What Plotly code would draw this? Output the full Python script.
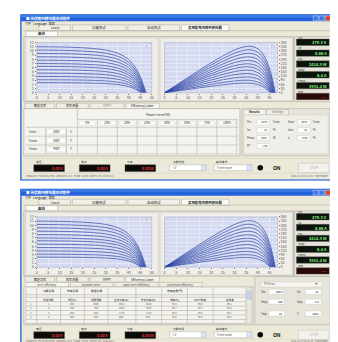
import plotly.graph_objects as go

W, H = 338, 342

# ---------------- data ----------------
# normalised I-V curve shape (V/Voc -> I/Isc)
v_norm = [0, 0.1, 0.2, 0.3, 0.4, 0.5, 0.6, 0.65, 0.7, 0.75, 0.8, 0.85, 0.9, 0.95, 1.0]
i_norm = [1.0, 0.998, 0.995, 0.99, 0.98, 0.965, 0.94, 0.92, 0.89, 0.85, 0.79, 0.70, 0.56, 0.34, 0.0]
# short-circuit current / open-circuit voltage of each irradiance level
isc_levels = [11.0, 10.2, 9.4, 8.6, 7.8, 7.0, 6.3, 5.5, 4.7, 3.9, 3.1, 2.4]
voc_levels = [47.5, 47.3, 47.1, 46.9, 46.7, 46.5, 46.3, 46.1, 45.9, 45.7, 45.5, 45.3]

power_levels = ["5%", "10%", "20%", "25%", "30%", "50%", "75%", "100%"]
voltage_rows = ["Vmin", "Vnom", "Vmax"]
voltage_vals = ["200V", "350V", "450V"]

display_labels = ["Vpv", "Ipv", "Ppv", "Impp", "Pmpp", "状态"]
display_vals_1 = ["279.3 V", "8.66 A", "2414.5 W", "6.4 A", "3551.4 W", "---"]
display_vals_2 = ["279.3 V", "8.66 A", "2414.5 W", "6.4 A", "3551.4 W", "---"]
led_labels = ["电压", "电流", "功率"]
led_vals = ["0.00 V", "0.00 A", "0.00 W"]
main_tabs = ["Local", "功能测试", "自动测试", "太阳能电池阵列模拟器"]
bottom_tabs = ["额定功率", "效率测量", "MPPT", "Efficiency Label"]
sub_tabs_2 = ["MPPT Efficiency", "Dynamic MPPT", "Static MPPT Efficiency", "Conversion Efficiency"]
table2_groups = ["功能设置", "效率设置", "数据记录", "", "", "效率结果(%)", "", ""]
table2_cols = ["测试次数", "电压(V)", "光照强度", "直流功率(W)", "交流功率(W)", "效率(%)", "MPPT效率", "总效率"]
table2_rows = [["1", "200", "1000", "3551", "3420", "96.3", "99.8", "96.1"],
               ["2", "350", "750", "2663", "2575", "96.7", "99.7", "96.4"],
               ["3", "450", "500", "1775", "1712", "96.5", "99.6", "96.1"],
               ["4", "200", "250", "888", "851", "95.8", "99.5", "95.3"]]

# ---------------- helpers ----------------
shapes, annotations = [], []
FONT = "Noto Sans CJK SC, DejaVu Sans"


def X(px):
    return px / W


def Y(py):
    return 1 - py / H


def rect(x0, y0, x1, y1, fill, line=None, lw=0.6):
    shapes.append(dict(type="rect", xref="paper", yref="paper", layer="below",
                       x0=X(x0), x1=X(x1), y0=Y(y1), y1=Y(y0), fillcolor=fill,
                       line=dict(color=line if line else fill, width=lw if line else 0)))


def hline(x0, x1, y, color="#a9a79d", lw=0.5):
    shapes.append(dict(type="line", xref="paper", yref="paper", layer="below",
                       x0=X(x0), x1=X(x1), y0=Y(y), y1=Y(y), line=dict(color=color, width=lw)))


def vline(x, y0, y1, color="#a9a79d", lw=0.5):
    shapes.append(dict(type="line", xref="paper", yref="paper", layer="below",
                       x0=X(x), x1=X(x), y0=Y(y0), y1=Y(y1), line=dict(color=color, width=lw)))


def circle(cx, cy, r, fill):
    shapes.append(dict(type="circle", xref="paper", yref="paper", layer="below",
                       x0=X(cx - r), x1=X(cx + r), y0=Y(cy + r), y1=Y(cy - r),
                       fillcolor=fill, line=dict(width=0)))


def txt(x, y, s, size=3.6, color="#333333", anchor="left", bold=False):
    annotations.append(dict(xref="paper", yref="paper", x=X(x), y=Y(y),
                            text=("<b>%s</b>" % s) if bold else s, showarrow=False,
                            font=dict(size=size, color=color, family=FONT),
                            xanchor=anchor, yanchor="middle", borderpad=0))


BEIGE = "#ece9d8"
PANEL = "#e7e4da"
BORDER = "#a7a49a"
PLOTBG = "#d5daf1"


def window(top, bottom, dy, second):
    # frame and title bar
    rect(12, top, 327, bottom, BEIGE, "#0b4fd1", 1.2)
    rect(12, top, 327, top + 6.5, "#2461dc")
    rect(12, top, 327, top + 2.5, "#3f7ee9")
    txt(16, top + 3.3, "■ 光伏阵列模拟器测试软件", 3.6, "#ffffff", bold=True)
    rect(307, top + 1, 312, top + 5.8, "#3a76e6", "#ffffff", 0.4)
    rect(313, top + 1, 318, top + 5.8, "#3a76e6", "#ffffff", 0.4)
    rect(319, top + 1, 325, top + 5.8, "#d9462b", "#ffffff", 0.4)
    # menu
    txt(15, top + 8.5, "文件   Language   帮助", 3.0, "#222222")
    # main tabs
    tabs_x = [(30, 62), (64, 118), (120, 172), (174, 222)]
    for k, (a, b) in enumerate(tabs_x):
        active = k == 3
        rect(a, dy + 14, b, dy + 20, "#fbfbf8" if active else "#f1efe6", BORDER, 0.5)
        txt((a + b) / 2, dy + 17, main_tabs[k], 3.4, "#222222", "center", bold=active)
    hline(14, 325, dy + 20, BORDER)
    # sub tab
    rect(17, dy + 20.5, 49, dy + 26, "#fbfbf8", BORDER, 0.5)
    txt(33, dy + 23.3, "曲线", 3.4, "#222222", "center", bold=True)
    # chart panel
    rect(15, dy + 26, 287, dy + 92, PANEL, BORDER, 0.6)
    rect(17, dy + 27.5, 150.5, dy + 91, "#efeee8", "#c8c6bc", 0.5)
    rect(152.5, dy + 27.5, 286, dy + 91, "#efeee8", "#c8c6bc", 0.5)
    # plot backgrounds (also set through plot_bgcolor)
    rect(28, dy + 32, 144, dy + 83, PLOTBG, "#8c93b8", 0.4)
    rect(157, dy + 32, 271, dy + 83, PLOTBG, "#8c93b8", 0.4)
    rect(135, dy + 33.5, 143, dy + 37, "#e6e9f7", "#b9bedb", 0.3)
    txt(139, dy + 35.3, "I-V", 2.4, "#6a6f90", "center")
    rect(262, dy + 33.5, 270, dy + 37, "#e6e9f7", "#b9bedb", 0.3)
    txt(266, dy + 35.3, "P-V", 2.4, "#6a6f90", "center")
    # right-hand displays
    rect(288, dy + 26, 325, dy + 92, PANEL, BORDER, 0.5)
    vals = display_vals_2 if second else display_vals_1
    for k in range(6):
        yt = dy + 28.5 + k * 11
        txt(291, yt - 1.6, display_labels[k], 2.6, "#333333")
        red = k == 5
        rect(290, yt, 323, yt + 6.5, "#2a0808" if red else "#0c120c", "#5a5a5a", 0.4)
        txt(322, yt + 3.3, vals[k], 4.0, "#ff4a3a" if red else "#7cf27c", "right", bold=True)

    if not second:
        # bottom tabs
        btx = [(16, 46), (48, 80), (82, 116), (118, 152)]
        for k, (a, b) in enumerate(btx):
            rect(a, dy + 93.5, b, dy + 99, "#f6f5f0" if k == 3 else "#efede4", BORDER, 0.5)
            txt((a + b) / 2, dy + 96.3, bottom_tabs[k], 3.1, "#888888" if k == 2 else "#222222", "center")
        # table
        rect(15, dy + 99, 233, dy + 147, "#f4f3ee", BORDER, 0.6)
        x0g, cw = 69, 20.1
        hline(x0g, 231, dy + 110, BORDER)
        txt((x0g + 231) / 2, dy + 105, "Power Level(W)", 3.4, "#333333", "center")
        for k in range(9):
            vline(x0g + k * cw, dy + (99 if k == 0 else 110), dy + 145, BORDER)
        for k, lab in enumerate(power_levels):
            rect(x0g + k * cw + 2, dy + 111.5, x0g + (k + 1) * cw - 2, dy + 116, "#fbfbf9", "#c4c2b8", 0.3)
            txt(x0g + (k + 0.5) * cw, dy + 113.8, lab, 3.0, "#333333", "center")
        for r in range(3):
            yr = dy + 118 + r * 9
            hline(17, 231, yr, BORDER)
            txt(19, yr + 4.5, voltage_rows[r], 3.0)
            rect(38, yr + 2, 57, yr + 7, "#ffffff", "#b5b3aa", 0.3)
            txt(47.5, yr + 4.5, voltage_vals[r], 3.0, "#222222", "center")
            txt(61, yr + 4.5, "V", 3.0)
        hline(17, 231, dy + 145, BORDER)
        vline(37, dy + 118, dy + 145, BORDER)
        vline(58, dy + 118, dy + 145, BORDER)
        # right panel
        rect(235, dy + 99, 324, dy + 147, PANEL, BORDER, 0.5)
        rect(237, dy + 100, 259, dy + 105.5, "#f6f5f0", BORDER, 0.4)
        txt(248, dy + 102.8, "Results", 3.0, "#222222", "center", bold=True)
        rect(260, dy + 100, 282, dy + 105.5, "#efede4", BORDER, 0.4)
        txt(271, dy + 102.8, "Settings", 3.0, "#777777", "center")
        rect(237, dy + 105.5, 322, dy + 145, "#efeee8", "#c4c2b8", 0.4)
        fields = [(239, 113, "Vin", "1234", "Vrms"), (280, 113, "Vout", "1234", "Vrms"),
                  (239, 121, "Iin", "12", "%"), (280, 121, "Iout", "12", "%"),
                  (239, 129, "Pmax", "3551", "W"), (280, 129, "η", "0.00", "%"),
                  (239, 137, "PF", "1.00", "")]
        for fx, fy, lab, val, unit in fields:
            txt(fx, dy + fy, lab, 2.8)
            rect(fx + 11, dy + fy - 2.5, fx + 24, dy + fy + 2.5, "#ffffff", "#b5b3aa", 0.3)
            txt(fx + 23, dy + fy, val, 2.8, "#222222", "right")
            txt(fx + 26, dy + fy, unit, 2.8)
        by = dy + 153
        sy = by + 14
    else:
        # two rows of tabs
        btx = [(16, 46), (48, 80), (82, 116), (118, 152)]
        for k, (a, b) in enumerate(btx):
            rect(a, dy + 92.5, b, dy + 98, "#f6f5f0" if k == 3 else "#efede4", BORDER, 0.5)
            txt((a + b) / 2, dy + 95.3, bottom_tabs[k], 3.1, "#222222", "center")
        stx = [(17, 60), (62, 105), (107, 150), (152, 195)]
        for k, (a, b) in enumerate(stx):
            rect(a, dy + 98.5, b, dy + 103, "#f6f5f0" if k == 0 else "#efede4", BORDER, 0.4)
            txt((a + b) / 2, dy + 100.8, sub_tabs_2[k], 2.6, "#444444", "center")
        # table
        rect(15, dy + 103, 246, dy + 141, "#f4f3ee", BORDER, 0.6)
        colx = [17, 28, 52, 76, 100, 128, 154, 180, 206, 239]
        for cx in colx:
            vline(cx, dy + 104, dy + 140, BORDER)
        for yy in [111, 113.5, 118, 122.5, 127, 131.5, 136, 140]:
            hline(17, 239, dy + yy, BORDER)
        for k, lab in enumerate(table2_groups):
            if lab:
                txt((colx[k + 1] + colx[k + 2]) / 2, dy + 107, lab, 2.8, "#222222", "center")
        for k, lab in enumerate(table2_cols):
            txt((colx[k + 1] + colx[k + 2]) / 2, dy + 115.8, lab, 2.6, "#222222", "center")
        for r, row in enumerate(table2_rows):
            txt(22.5, dy + 120.3 + r * 4.5, str(r + 1), 2.4, "#555555", "center")
            for k, val in enumerate(row):
                txt((colx[k + 1] + colx[k + 2]) / 2, dy + 120.3 + r * 4.5, val, 2.4, "#555555", "center")
        rect(240, dy + 104, 245, dy + 140, "#e9e8e2", "#b5b3aa", 0.3)
        rect(240.5, dy + 107, 244.5, dy + 116, "#c5d3f0", "#8fa3cf", 0.3)
        # right panel
        rect(248, dy + 92.5, 324, dy + 141, PANEL, BORDER, 0.5)
        rect(254, dy + 98, 316, dy + 103, "#f7f6f2", "#b5b3aa", 0.3)
        txt(256, dy + 100.5, "PV Array", 2.8, "#555555")
        txt(313, dy + 100.5, "▼", 2.4, "#555555", "right")
        fields = [(253, 108, "Voc", "500.0"), (290, 108, "Isc", "10"),
                  (253, 118, "Vmp", "400"), (290, 118, "Imp", "8.9"),
                  (253, 130, "Tmp", "25"), (290, 130, "G", "1000")]
        for fx, fy, lab, val in fields:
            txt(fx, dy + fy, lab, 2.8)
            rect(fx + 9, dy + fy - 2.6, fx + 25, dy + fy + 2.6, "#ffffff", "#b5b3aa", 0.3)
            txt(fx + 24, dy + fy, val, 2.8, "#222222", "right")
        by = dy + 145.5
        sy = by + 12.8

    # bottom bar
    hline(14, 325, by - 3.5, "#cfccc0", 0.5)
    for k, lx in enumerate([25, 71, 117]):
        txt(lx + 1, by, led_labels[k], 2.8, "#333333")
        rect(lx, by + 3, lx + 31, by + 10, "#0a0a0a", "#555555", 0.4)
        txt(lx + 30, by + 6.5, led_vals[k], 3.6, "#e8382a", "right", bold=True)
    txt(164, by, "功能选择", 2.8)
    rect(162, by + 3, 199, by + 9, "#ffffff", "#9e9c94", 0.4)
    txt(164, by + 6, "I-V", 2.8)
    rect(194, by + 3.4, 198.6, by + 8.6, "#dde4f4", "#9eaed0", 0.3)
    txt(208, by, "输出模式", 2.8)
    rect(207, by + 3, 245, by + 9, "#ffffff", "#9e9c94", 0.4)
    txt(209, by + 6, "Fixed mode", 2.8, "#555555")
    rect(240, by + 3.4, 244.6, by + 8.6, "#dde4f4", "#9eaed0", 0.3)
    circle(253.5, by + 6, 2.8, "#050505")
    txt(270, by + 6, "ON", 5.0, "#111111", "center", bold=True)
    rect(292, by + 1.5, 323, by + 11, "#f2f1ec", "#c2c0b6", 0.5)
    txt(307.5, by + 6.2, "STOP", 3.2, "#b0aea6", "center")
    # status bar
    hline(14, 325, sy - 2.2, "#cfccc0", 0.4)
    txt(16, sy, "PRODUCT: PV SIMULATOR   VERSION: V1.0   MODE: AUTO   COMM: OK   STATUS: 0",
        2.4, "#666666")
    txt(323, sy, "2010-12-15 10:21:34   Fixed mode", 2.4, "#666666", "right")


window(4, 171.5, 0, False)
window(181, 344, 177, True)

# ---------------- figure and traces ----------------
fig = go.Figure()
AX = [
    # (x-domain px, y-domain px)
    ((28, 144), (32, 83)), ((157, 271), (32, 83)),
    ((28, 144), (209, 260)), ((157, 271), (209, 260)),
]
iv_range = [0, 50]
pv_range = [0, 48.5]
iv_yrange = [0, 12]
pv_yrange = [0, 360]

for n, ((xa, xb), (ya, yb)) in enumerate(AX, start=1):
    is_iv = n % 2 == 1
    xs = "" if n == 1 else str(n)
    fig.layout["xaxis" + xs] = dict(
        domain=[X(xa), X(xb)], anchor="y" + xs, range=iv_range if is_iv else pv_range,
        dtick=5, showgrid=True, gridcolor="rgba(255,255,255,0.35)", gridwidth=0.4,
        zeroline=False, showline=False, ticks="outside", ticklen=1.2, tickwidth=0.4,
        tickcolor="#777777", tickfont=dict(size=3.6, color="#555555", family=FONT),
        fixedrange=True)
    fig.layout["yaxis" + xs] = dict(
        domain=[Y(yb), Y(ya)], anchor="x" + xs, range=iv_yrange if is_iv else pv_yrange,
        dtick=1 if is_iv else 30, side="left" if is_iv else "right",
        showgrid=True, gridcolor="rgba(255,255,255,0.35)", gridwidth=0.4,
        zeroline=False, showline=False, ticks="outside", ticklen=1.2, tickwidth=0.4,
        tickcolor="#777777", tickfont=dict(size=3.6, color="#555555", family=FONT),
        fixedrange=True)

for w in range(2):
    for k in range(len(isc_levels)):
        v = [vn * voc_levels[k] for vn in v_norm]
        cur = [inn * isc_levels[k] for inn in i_norm]
        pw = [a * b for a, b in zip(v, cur)]
        n_iv = 2 * w + 1
        n_pv = 2 * w + 2
        fig.add_trace(go.Scatter(x=v, y=cur, mode="lines", line=dict(color="#2f47a6", width=0.7, shape="spline"),
                                 xaxis="x" if n_iv == 1 else "x%d" % n_iv,
                                 yaxis="y" if n_iv == 1 else "y%d" % n_iv,
                                 hoverinfo="skip", showlegend=False))
        fig.add_trace(go.Scatter(x=v, y=pw, mode="lines", line=dict(color="#2f47a6", width=0.7, shape="spline"),
                                 xaxis="x%d" % n_pv, yaxis="y%d" % n_pv,
                                 hoverinfo="skip", showlegend=False))

fig.update_layout(
    width=W, height=H, margin=dict(l=0, r=0, t=0, b=0),
    paper_bgcolor="#ffffff", plot_bgcolor=PLOTBG,
    shapes=shapes, annotations=annotations, showlegend=False,
    font=dict(family=FONT),
)

fig.write_html("out.html", config={"displayModeBar": False})
